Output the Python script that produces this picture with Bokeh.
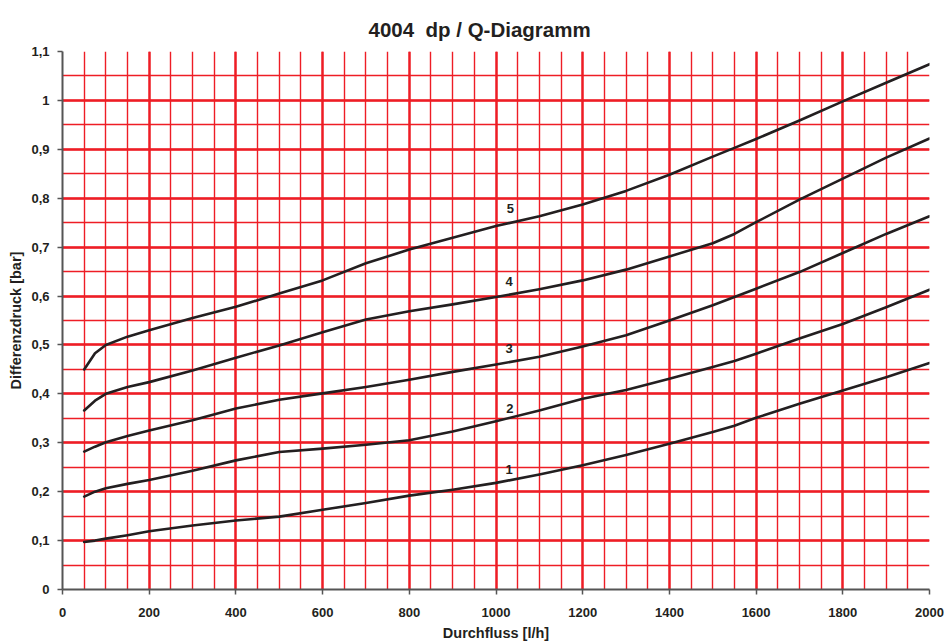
from bokeh.plotting import figure
from bokeh.embed import file_html
from bokeh.resources import INLINE
from bokeh.models import Range1d, SingleIntervalTicker, FixedTicker, ColumnDataSource
from bokeh.core.properties import value

# ---- data ----
flow = [50, 75, 100, 150, 200, 300, 400, 500, 600, 700, 800, 900, 1000, 1100, 1200,
        1300, 1400, 1500, 1550, 1600, 1700, 1800, 1900, 2000]

dp1 = [0.097, 0.100, 0.104, 0.111, 0.119, 0.131, 0.141, 0.149, 0.163, 0.177, 0.192, 0.204, 0.218,
       0.235, 0.254, 0.275, 0.298, 0.322, 0.335, 0.351, 0.380, 0.407, 0.434, 0.463]
dp2 = [0.190, 0.200, 0.207, 0.216, 0.224, 0.243, 0.264, 0.281, 0.288, 0.296, 0.305, 0.323, 0.344,
       0.366, 0.390, 0.408, 0.431, 0.455, 0.467, 0.482, 0.513, 0.543, 0.577, 0.613]
dp3 = [0.282, 0.292, 0.301, 0.314, 0.325, 0.346, 0.370, 0.388, 0.401, 0.414, 0.429, 0.445, 0.460,
       0.476, 0.497, 0.520, 0.550, 0.581, 0.598, 0.615, 0.649, 0.688, 0.727, 0.763]
dp4 = [0.366, 0.386, 0.400, 0.414, 0.424, 0.448, 0.474, 0.499, 0.526, 0.552, 0.569, 0.583, 0.598,
       0.614, 0.632, 0.654, 0.681, 0.708, 0.727, 0.751, 0.797, 0.840, 0.883, 0.922]
dp5 = [0.450, 0.483, 0.500, 0.517, 0.530, 0.555, 0.578, 0.605, 0.632, 0.667, 0.695, 0.719, 0.743,
       0.763, 0.787, 0.815, 0.848, 0.885, 0.903, 0.921, 0.959, 0.998, 1.036, 1.074]

series = [dp1, dp2, dp3, dp4, dp5]
curve_names = ["1", "2", "3", "4", "5"]
label_x = [1030, 1032, 1030, 1030, 1033]
label_y = [0.245, 0.370, 0.493, 0.630, 0.779]

x_ticks = [0, 200, 400, 600, 800, 1000, 1200, 1400, 1600, 1800, 2000]
y_ticks = [0, 0.1, 0.2, 0.3, 0.4, 0.5, 0.6, 0.7, 0.8, 0.9, 1.0, 1.1]
y_tick_labels = ["0", "0,1", "0,2", "0,3", "0,4", "0,5", "0,6", "0,7", "0,8", "0,9", "1", "1,1"]

title_text = "4004\u00a0 dp / Q-Diagramm"
x_label = "Durchfluss [l/h]"
y_label = "Differenzdruck [bar]"

FONT = "Liberation Sans"
RED = "#ee1d25"
INK = "#231f20"

p = figure(width=944, height=644, output_backend="svg", toolbar_location=None,
           x_range=Range1d(0, 2000), y_range=Range1d(0, 1.1),
           min_border_left=62, min_border_right=15, min_border_top=51, min_border_bottom=55)

p.title.text = title_text
p.title.align = "left"
p.title.offset = 306
p.title.standoff = 22
p.title.text_font = FONT
p.title.text_font_size = "20.5px"
p.title.text_font_style = "bold"
p.title.text_color = INK

p.outline_line_color = None
p.background_fill_color = "white"

# grid: coarse lines every 200 l/h / 0.1 bar, fine lines every 50 l/h / 0.05 bar
p.xgrid.ticker = SingleIntervalTicker(interval=200, num_minor_ticks=4)
p.ygrid.ticker = SingleIntervalTicker(interval=0.1, num_minor_ticks=2)
for g in (p.xgrid, p.ygrid):
    g.grid_line_color = RED
    g.grid_line_width = 2.4
    g.grid_line_alpha = 1.0
    g.minor_grid_line_color = RED
    g.minor_grid_line_width = 1.4
    g.minor_grid_line_alpha = 1.0
    g.level = "underlay"

# axes
p.xaxis.ticker = FixedTicker(ticks=x_ticks)
p.yaxis.ticker = FixedTicker(ticks=y_ticks)
p.yaxis.major_label_overrides = {t: l for t, l in zip(y_ticks, y_tick_labels)}
for ax in (p.xaxis, p.yaxis):
    ax.axis_line_color = "#555555"
    ax.axis_line_width = 2
    ax.major_tick_line_color = "#555555"
    ax.major_tick_line_width = 1.5
    ax.major_tick_out = 5
    ax.major_tick_in = 0
    ax.minor_tick_line_color = None
    ax.major_label_text_font = FONT
    ax.major_label_text_font_size = "13px"
    ax.major_label_text_font_style = "bold"
    ax.major_label_text_color = INK
    ax.axis_label_text_font = FONT
    ax.axis_label_text_font_size = "14.5px"
    ax.axis_label_text_font_style = "bold"
    ax.axis_label_text_color = INK
p.xaxis.axis_label = x_label
p.yaxis.axis_label = y_label
p.xaxis.major_label_standoff = 13
p.yaxis.major_label_standoff = 8
p.xaxis.axis_label_standoff = 5
p.yaxis.axis_label_standoff = 4

for ys in series:
    p.line(flow, ys, line_color=INK, line_width=2.6, line_join="round", line_cap="round")

src = ColumnDataSource(dict(x=label_x, y=label_y, t=curve_names))
p.text(x="x", y="y", text="t", source=src, text_font=value(FONT), text_font_size="13px",
       text_font_style="bold", text_color=INK, text_align="center", text_baseline="middle")

open("out.html", "w").write(file_html(p, INLINE))
